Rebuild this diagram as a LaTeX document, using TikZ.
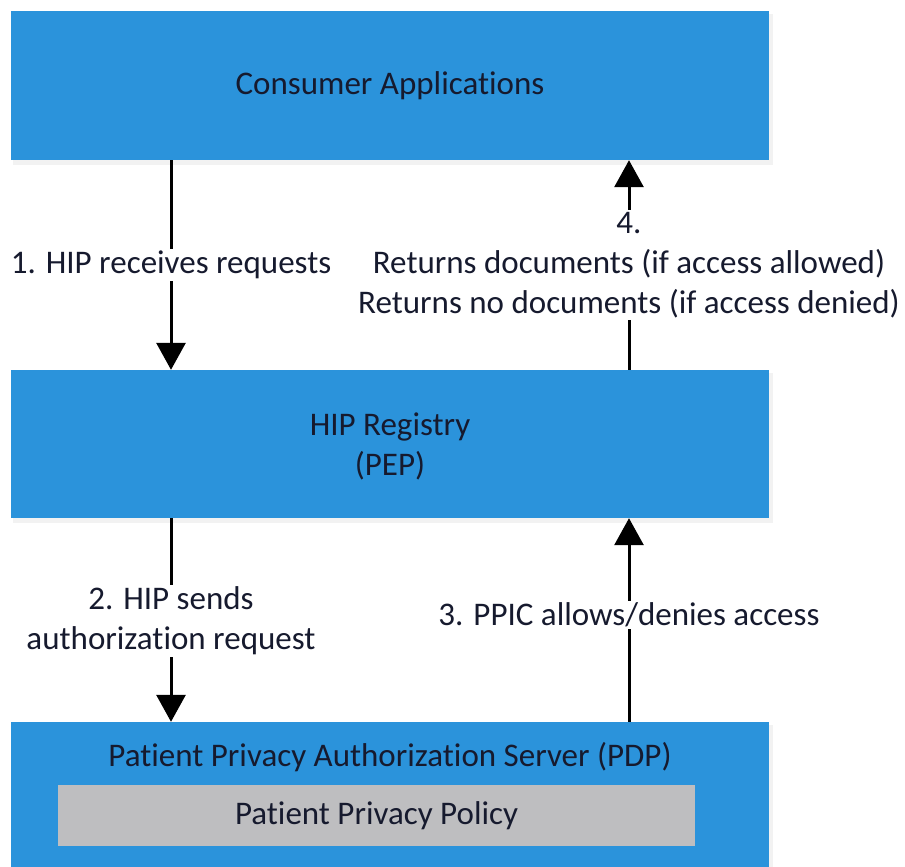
\documentclass[tikz,border=0pt]{standalone}
\usepackage{fontspec}
\setmainfont{Carlito}[Ligatures=NoCommon]
\usetikzlibrary{arrows.meta}
\definecolor{boxblue}{RGB}{43,147,219}
\definecolor{polgray}{RGB}{190,190,192}
\definecolor{txt}{RGB}{22,26,46}
\tikzset{
  bluebox/.style={fill=boxblue, draw=none, inner sep=0pt, text=txt, align=center},
  graybox/.style={fill=polgray, draw=none, inner sep=0pt, text=txt},
  arr/.style={line width=3pt, -{Triangle[width=29pt,length=27pt]}},
  lbl/.style={fill=white, text=txt, align=center, inner sep=2pt}
}
\begin{document}
\begin{tikzpicture}[x=1pt,y=-1pt, font=\fontsize{33}{40}\selectfont]
\useasboundingbox (0,0) rectangle (905,867);
% soft shadows
\fill[black!5] (13,14) rectangle (773,165);
\fill[black!5] (13,373) rectangle (773,523);
\fill[black!5] (13,725) rectangle (773,867);
% boxes
\node[bluebox, minimum width=758pt, minimum height=149pt] (cons) at (390,85.5) {Consumer Applications};
\node[bluebox, minimum width=758pt, minimum height=148pt] (hip) at (390,444) {};
\node[text=txt, align=center, inner sep=0pt] (hiptext) at (390,446) {HIP Registry\\(PEP)};
\node[bluebox, minimum width=758pt, minimum height=150pt] (pdp) at (390,797) {};
\node[text=txt, inner sep=0pt] (pdptitle) at (390,757) {Patient Privacy Authorization Server (PDP)};
\node[graybox, minimum width=637pt, minimum height=61pt] (pol) at (376.5,815.5) {Patient Privacy Policy};
% arrow columns
\coordinate (xl) at (171,0);
\coordinate (xr) at (629,0);
\draw[arr] (cons.south -| xl) -- node[lbl] {1. HIP receives requests} (hip.north -| xl);
\draw[arr] (hip.south -| xl) -- node[lbl, yshift=-1pt] {2. HIP sends\\authorization request} (pdp.north -| xl);
\draw[arr] (pdp.north -| xr) -- node[lbl, yshift=5pt] {3. PPIC allows/denies access} (hip.south -| xr);
\draw[arr] (hip.north -| xr) -- node[lbl] {4.\\Returns documents (if access allowed)\\Returns no documents (if access denied)} (cons.south -| xr);
\end{tikzpicture}
\end{document}
